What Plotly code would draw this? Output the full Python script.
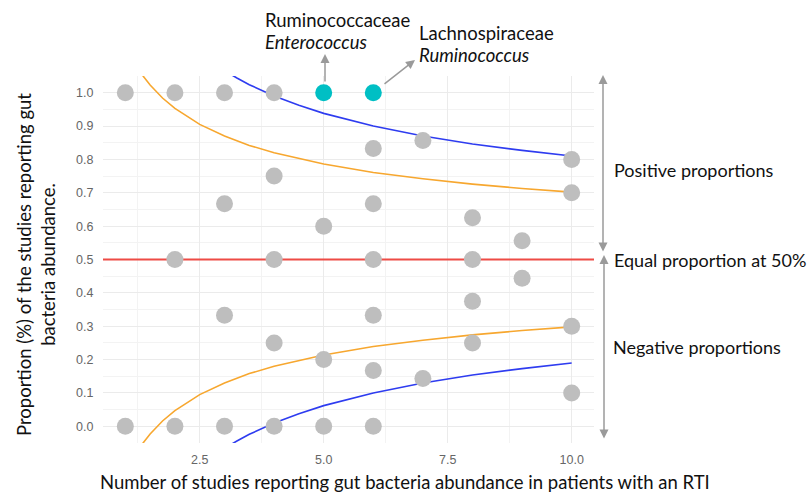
import plotly.graph_objects as go

# ---- data ----
grey_x = [1, 1, 2, 2, 2, 3, 3, 3, 3, 4, 4, 4, 4, 4, 5, 5, 5,
          6, 6, 6, 6, 6, 6, 7, 7, 8, 8, 8, 8, 9, 9, 10, 10, 10, 10]
grey_y = [1.0, 0.0, 1.0, 0.5, 0.0, 1.0, 0.667, 0.333, 0.0,
          1.0, 0.75, 0.5, 0.25, 0.0, 0.6, 0.2, 0.0,
          0.833, 0.667, 0.5, 0.333, 0.167, 0.0, 0.857, 0.143,
          0.625, 0.5, 0.375, 0.25, 0.556, 0.444, 0.8, 0.7, 0.3, 0.1]
teal_x = [5, 6]
teal_y = [1.0, 1.0]

orange_x = [1.3, 1.5, 1.75, 2, 2.5, 3, 3.5, 4, 5, 6, 7, 8, 9, 10]
orange_upper = [1.061, 1.023, 0.984, 0.953, 0.905, 0.870, 0.842, 0.820,
                0.786, 0.761, 0.742, 0.726, 0.713, 0.702]
orange_lower = [-0.061, -0.023, 0.016, 0.047, 0.095, 0.130, 0.158, 0.180,
                0.214, 0.239, 0.258, 0.274, 0.287, 0.298]

blue_x = [2.75, 3, 3.25, 3.5, 4, 4.5, 5, 6, 7, 8, 9, 10]
blue_upper = [1.091, 1.066, 1.044, 1.024, 0.990, 0.962, 0.938, 0.900,
              0.870, 0.846, 0.827, 0.810]
blue_lower = [-0.091, -0.066, -0.044, -0.024, 0.010, 0.038, 0.062, 0.100,
              0.130, 0.154, 0.173, 0.190]

equal_line_y = 0.5

x_ticks = [2.5, 5.0, 7.5, 10.0]
x_tick_text = ["2.5", "5.0", "7.5", "10.0"]
y_ticks = [0.0, 0.1, 0.2, 0.3, 0.4, 0.5, 0.6, 0.7, 0.8, 0.9, 1.0]
y_tick_text = ["0.0", "0.1", "0.2", "0.3", "0.4", "0.5", "0.6", "0.7", "0.8", "0.9", "1.0"]

# ---- layout geometry ----
W, H = 810, 493
L, R, T, B = 103, 216, 76, 50
PW, PH = W - L - R, H - T - B


def px(p):
    return (p - L) / PW


def py(p):
    return (H - B - p) / PH


fig = go.Figure()

fig.add_trace(go.Scatter(x=[0.55, 10.45], y=[equal_line_y, equal_line_y], mode="lines",
                         line=dict(color="#EE4B45", width=2), hoverinfo="skip"))
fig.add_trace(go.Scatter(x=orange_x, y=orange_upper, mode="lines",
                         line=dict(color="#F7A72F", width=1.6)))
fig.add_trace(go.Scatter(x=orange_x, y=orange_lower, mode="lines",
                         line=dict(color="#F7A72F", width=1.6)))
fig.add_trace(go.Scatter(x=blue_x, y=blue_upper, mode="lines",
                         line=dict(color="#2E3CF0", width=1.6)))
fig.add_trace(go.Scatter(x=blue_x, y=blue_lower, mode="lines",
                         line=dict(color="#2E3CF0", width=1.6)))
fig.add_trace(go.Scatter(x=grey_x, y=grey_y, mode="markers",
                         marker=dict(color="#BEBEBE", size=17, line=dict(width=0))))
fig.add_trace(go.Scatter(x=teal_x, y=teal_y, mode="markers",
                         marker=dict(color="#00BFC4", size=17, line=dict(width=0))))


def font(size):
    return dict(family="Lato", size=size, color="#111111")


annotations = [
    dict(text="Ruminococcaceae", x=px(263), y=py(20), xanchor="left", yanchor="middle", font=font(18.5)),
    dict(text="<i>Enterococcus</i>", x=px(263), y=py(42), xanchor="left", yanchor="middle", font=font(18.5)),
    dict(text="Lachnospiraceae", x=px(417), y=py(33), xanchor="left", yanchor="middle", font=font(18.5)),
    dict(text="<i>Ruminococcus</i>", x=px(417), y=py(55), xanchor="left", yanchor="middle", font=font(18.5)),
    dict(text="Positive proportions", x=px(612), y=py(170), xanchor="left", yanchor="middle", font=font(18)),
    dict(text="Equal proportion at 50%", x=px(612), y=py(260), xanchor="left", yanchor="middle", font=font(18)),
    dict(text="Negative proportions", x=px(611), y=py(347), xanchor="left", yanchor="middle", font=font(18)),
    dict(text="Number of studies reporting gut bacteria abundance in patients with an RTI",
         x=px(405), y=py(482), xanchor="center", yanchor="middle", font=font(18.5)),
    dict(text="Proportion (%) of the studies reporting gut<br>bacteria abundance.",
         x=px(36), y=py(265), xanchor="center", yanchor="middle", textangle=-90, font=font(18.5)),
]
for a in annotations:
    a.update(xref="paper", yref="paper", showarrow=False)

ARROW = dict(xref="paper", yref="paper", axref="pixel", ayref="pixel", text="",
             showarrow=True, arrowcolor="#9A9A9A", arrowwidth=1.5, arrowhead=2,
             arrowsize=1.2)
arrows = [
    dict(x=px(325), y=py(54), ax=0, ay=29),
    dict(x=px(415), y=py(60), ax=-32, ay=25),
    dict(x=px(603), y=py(75), ax=0, ay=178, arrowside="end+start", startarrowhead=2,
         startarrowsize=1.2),
    dict(x=px(604), y=py(255), ax=0, ay=185, arrowside="end+start", startarrowhead=2,
         startarrowsize=1.2),
]
for a in arrows:
    b = dict(ARROW)
    b.update(a)
    annotations.append(b)

fig.update_layout(
    width=W, height=H,
    margin=dict(l=L, r=R, t=T, b=B),
    paper_bgcolor="white", plot_bgcolor="white",
    showlegend=False,
    annotations=annotations,
    xaxis=dict(range=[0.55, 10.45], tickvals=x_ticks, ticktext=x_tick_text,
               showgrid=True, gridcolor="#EBEBEB", gridwidth=1, zeroline=False,
               showline=False, ticks="outside", ticklen=5, tickcolor="rgba(0,0,0,0)",
               tickfont=dict(family="Liberation Sans", size=12.5, color="#666666"),
               minor=dict(tickvals=[1.25, 3.75, 6.25, 8.75], showgrid=True,
                          gridcolor="#F3F3F3", gridwidth=1)),
    yaxis=dict(range=[-0.05, 1.05], tickvals=y_ticks, ticktext=y_tick_text,
               showgrid=True, gridcolor="#EBEBEB", gridwidth=1, zeroline=False,
               showline=False, ticks="outside", ticklen=6, tickcolor="rgba(0,0,0,0)",
               tickfont=dict(family="Liberation Sans", size=12.5, color="#666666"),
               minor=dict(tickvals=[0.05, 0.15, 0.25, 0.35, 0.45, 0.55, 0.65, 0.75,
                                    0.85, 0.95], showgrid=True,
                          gridcolor="#F3F3F3", gridwidth=1)),
)

fig.write_html("out.html")
